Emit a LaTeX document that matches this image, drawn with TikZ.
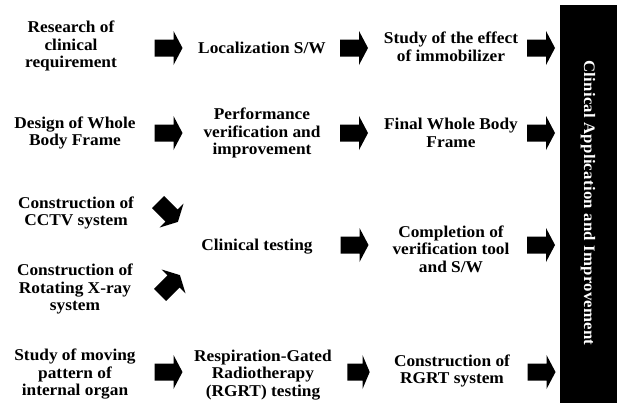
\documentclass[tikz,border=0pt]{standalone}
\usepackage{fontspec}
\setmainfont{Liberation Serif}[FakeStretch=1.05]
\usepackage{tikz}

\tikzset{
    stage/.style={align=center, inner sep=0pt, font=\fontsize{16.5}{17.5}\selectfont\bfseries},
    bigarrow/.pic={\fill (-14,-8.5) -- (5,-8.5) -- (5,-17) -- (14,0) -- (5,17) -- (5,8.5) -- (-14,8.5) -- cycle;},
}

\begin{document}
\begin{tikzpicture}[x=1pt, y=-1pt]
        \useasboundingbox (0,0) rectangle (617,405);

        \node[stage] (research) at (71,46) {Research of\\clinical\\requirement};
        \node[stage] (design) at (75,133) {Design of Whole\\Body Frame};
        \node[stage] (cctv) at (76,213) {Construction of\\CCTV system};
        \node[stage] (xray) at (75,289) {Construction of\\Rotating X-ray\\system};
        \node[stage] (organ) at (75,374) {Study of moving\\pattern of\\internal organ};

        \node[stage] (localize) at (262,48) {Localization S/W};
        \node[stage] (perform) at (262,133) {Performance\\verification and\\improvement};
        \node[stage] (clintest) at (257,247) {Clinical testing};
        \node[stage] (rgrttest) at (263,375) {Respiration-Gated\\Radiotherapy\\(RGRT) testing};

        \node[stage] (immob) at (451,47) {Study of the effect\\of immobilizer};
        \node[stage] (finalframe) at (451,133) {Final Whole Body\\Frame};
        \node[stage] (complete) at (451,249) {Completion of\\verification tool\\and S/W};
        \node[stage] (rgrtsys) at (452,371) {Construction of\\RGRT system};

        \fill (560,5) rectangle (617,403);
        \node[rotate=-90, text=white, font=\fontsize{16}{18}\selectfont\bfseries\addfontfeature{LetterSpace=1.5}]
            (clinapp) at (588,203) {Clinical Application and Improvement};

        \pic (a11) at (168.5,48) {bigarrow};
        \pic (a12) at (168.5,133) {bigarrow};
        \pic[rotate=-45] (a13) at (168,212) {bigarrow};
        \pic[rotate=45] (a14) at (170,285) {bigarrow};
        \pic (a15) at (168.5,372) {bigarrow};

        \pic (a21) at (354,48) {bigarrow};
        \pic (a22) at (354,133) {bigarrow};
        \pic (a23) at (354.5,245) {bigarrow};
        \pic[xscale=0.8] (a25) at (358.5,372) {bigarrow};

        \pic (a31) at (541,48) {bigarrow};
        \pic (a32) at (541,133) {bigarrow};
        \pic (a33) at (541,245) {bigarrow};
        \pic (a35) at (541.5,372) {bigarrow};
    \end{tikzpicture}
\end{document}
